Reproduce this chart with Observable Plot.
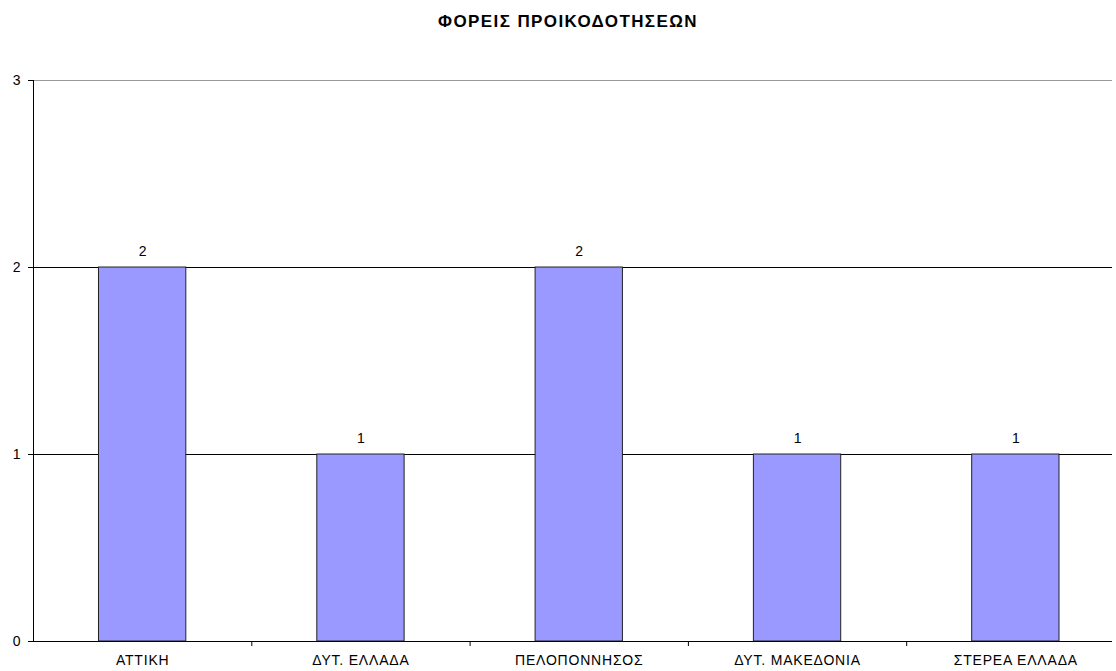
<!DOCTYPE html>
<html>
<head>
<meta charset="utf-8">
<script src="https://cdn.jsdelivr.net/npm/d3@7"></script>
<script src="https://cdn.jsdelivr.net/npm/@observablehq/plot@0.6"></script>
<style>
  body { margin: 0; background: #fff; font-family: "Liberation Sans", Arial, sans-serif; }
  #title { box-sizing: border-box; height: 40px; padding-top: 4px; padding-left: 20px; line-height: 36px; text-align: center; font-weight: bold; font-size: 17px; letter-spacing: 1.4px; color: #000; }
  #chart svg g[aria-label="x-axis tick label"] text, #chart svg g[aria-label="x-axis tick label"] { letter-spacing: 0.8px; }
</style>
</head>
<body>
<div id="title">ΦΟΡΕΙΣ ΠΡΟΙΚΟΔΟΤΗΣΕΩΝ</div>
<div id="chart"></div>
<script>
const categories = ["ΑΤΤΙΚΗ", "ΔΥΤ. ΕΛΛΑΔΑ", "ΠΕΛΟΠΟΝΝΗΣΟΣ", "ΔΥΤ. ΜΑΚΕΔΟΝΙΑ", "ΣΤΕΡΕΑ ΕΛΛΑΔΑ"];
const values = [2, 1, 2, 1, 1];
const yTicks = [0, 1, 2, 3];

const data = categories.map((c, i) => ({i, c, v: values[i]}));
const idx = categories.map((c, i) => i);
const bounds = idx.slice(1).map(i => i - 0.5);

const chart = Plot.plot({
  width: 1116,
  height: 631,
  marginTop: 40,
  marginBottom: 30,
  marginLeft: 33,
  marginRight: 4,
  style: {fontFamily: "'Liberation Sans', Arial, sans-serif", fontSize: "14px", color: "#000", background: "#fff"},
  x: {domain: [-0.5, categories.length - 0.5], range: [33, 1124.5]},
  y: {domain: [0, 3]},
  marks: [
    Plot.ruleY([1, 2], {stroke: "#000"}),
    Plot.ruleY([3], {stroke: "#999"}),
    Plot.rectY(data, {x1: d => d.i - 0.2, x2: d => d.i + 0.2, y1: 0, y2: "v", fill: "#9999FF", stroke: "#222", strokeWidth: 1}),
    Plot.text(data, {x: "i", y: "v", text: d => String(d.v), lineAnchor: "bottom", dy: -12, fill: "#000", fontSize: 14}),
    Plot.ruleY([0], {stroke: "#000"}),
    Plot.ruleX([-0.5], {y1: 0, y2: 3, stroke: "#000"}),
    Plot.axisY({ticks: yTicks, tickSize: 5, tickPadding: 8, fontSize: 14, tickFormat: d => String(d), label: null, stroke: "#000"}),
    Plot.axisX({ticks: bounds, tickSize: 5, tickFormat: () => "", label: null, stroke: "#000"}),
    Plot.axisX({ticks: idx, tickSize: 0, tickPadding: 14, fontSize: 14, tickFormat: i => categories[i], label: null})
  ]
});
document.getElementById("chart").appendChild(chart);
</script>
</body>
</html>
